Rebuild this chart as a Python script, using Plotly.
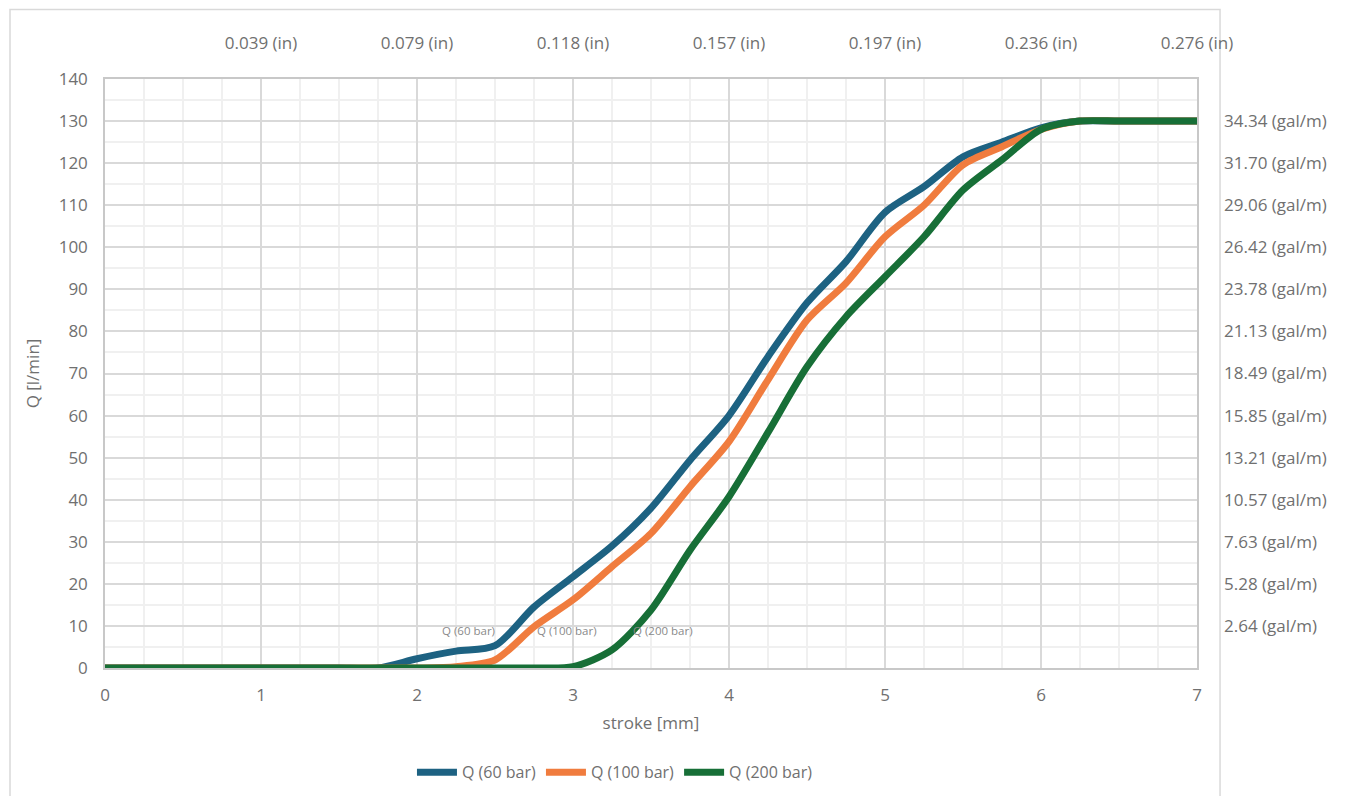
import plotly.graph_objects as go

# ---- data ----
stroke_mm = [0, 0.25, 0.5, 0.75, 1.0, 1.25, 1.5, 1.75, 2.0, 2.25, 2.5, 2.75, 3.0, 3.25, 3.5,
             3.75, 4.0, 4.25, 4.5, 4.75, 5.0, 5.25, 5.5, 5.75, 6.0, 6.25, 6.5, 6.75, 7.0]
q_60 = [0, 0, 0, 0, 0, 0, 0, 0, 2.2, 4, 5.3, 14.5, 21.7, 29, 38,
        49.4, 60, 74, 86.8, 96.6, 108.3, 114.4, 121.5, 125, 128.4, 130, 130, 130, 130]
q_100 = [0, 0, 0, 0, 0, 0, 0, 0, 0, 0.3, 1.9, 9.8, 16.2, 24.1, 32,
         43.1, 53.8, 68.5, 82.7, 91.5, 102.5, 110, 119.6, 123.9, 128, 130, 130, 130, 130]
q_200 = [0, 0, 0, 0, 0, 0, 0, 0, 0, 0, 0, 0, 0.3, 4.3, 13.8,
         28, 40.7, 56, 71.6, 83.5, 93, 102.5, 113.6, 120.8, 128, 130, 130, 130, 130]
series_names = ["Q (60 bar)", "Q (100 bar)", "Q (200 bar)"]
series_colors = ["#1d6282", "#f07c3e", "#176f37"]

x_ticks = [0, 1, 2, 3, 4, 5, 6, 7]
top_tick_vals = [1, 2, 3, 4, 5, 6, 7]
top_tick_text = ["0.039 (in)", "0.079 (in)", "0.118 (in)", "0.157 (in)",
                 "0.197 (in)", "0.236 (in)", "0.276 (in)"]
y_ticks = [0, 10, 20, 30, 40, 50, 60, 70, 80, 90, 100, 110, 120, 130, 140]
right_tick_vals = [10, 20, 30, 40, 50, 60, 70, 80, 90, 100, 110, 120, 130]
right_tick_text = ["2.64 (gal/m)", "5.28 (gal/m)", "7.63 (gal/m)", "10.57 (gal/m)",
                   "13.21 (gal/m)", "15.85 (gal/m)", "18.49 (gal/m)", "21.13 (gal/m)",
                   "23.78 (gal/m)", "26.42 (gal/m)", "29.06 (gal/m)", "31.70 (gal/m)",
                   "34.34 (gal/m)"]
label_x = [2.33, 2.96, 3.58]
label_y = [8.8, 8.8, 8.8]

FONT = "Open Sans"
TXT = "#707070"
MAJ = "#d9d9d9"
MIN = "#f0f0f0"

fig = go.Figure()
for name, ys, col in zip(series_names, [q_60, q_100, q_200], series_colors):
    fig.add_trace(go.Scatter(x=stroke_mm, y=ys, name=name, mode="lines",
                             line=dict(color=col, width=7, shape="spline", smoothing=0.8)))

# invisible trace to hold the secondary axes
fig.add_trace(go.Scatter(x=[0, 7], y=[0, 140], xaxis="x2", yaxis="y2", mode="lines",
                         line=dict(width=0, color="rgba(0,0,0,0)"), showlegend=False,
                         hoverinfo="skip"))

for lx, ly, name in zip(label_x, label_y, series_names):
    fig.add_annotation(x=lx, y=ly, text=name, showarrow=False,
                       font=dict(family=FONT, size=11.5, color="#8a8a8a"))

fig.add_shape(type="rect", xref="paper", yref="paper", x0=-0.0870, x1=1.0211,
              y0=-0.26, y1=1.1180, line=dict(color="#d9d9d9", width=1.5), layer="below")

fig.update_layout(
    width=1353, height=796,
    margin=dict(l=97, r=164, t=71, b=136),
    paper_bgcolor="white", plot_bgcolor="white",
    font=dict(family=FONT, size=17, color=TXT),
    showlegend=True,
    legend=dict(orientation="h", x=0.467, xanchor="center", y=-0.177, yanchor="middle",
                font=dict(family=FONT, size=16, color=TXT), itemwidth=40,
                tracegroupgap=0),
    xaxis=dict(range=[0, 7], tickvals=x_ticks, showgrid=True, gridcolor=MAJ, gridwidth=1.5,
               minor=dict(dtick=0.25, showgrid=True, gridcolor=MIN, gridwidth=1.5),
               showline=True, linecolor="#c8c8c8", linewidth=1.5, mirror=True,
               zeroline=False, ticks="", ticklabelstandoff=11,
               title=dict(text="stroke [mm]", standoff=12, font=dict(size=17, color=TXT))),
    yaxis=dict(range=[0, 140], tickvals=y_ticks, showgrid=True, gridcolor=MAJ, gridwidth=1.5,
               minor=dict(dtick=5, showgrid=True, gridcolor=MIN, gridwidth=1.5),
               showline=True, linecolor="#c8c8c8", linewidth=1.5, mirror=True,
               zeroline=False, ticks="", ticklabelstandoff=12,
               title=dict(text="Q [l/min]", standoff=15, font=dict(size=17, color=TXT))),
    xaxis2=dict(overlaying="x", side="top", range=[0, 7], tickvals=top_tick_vals,
                ticktext=top_tick_text, showgrid=False, zeroline=False, showline=False,
                ticks="", ticklabelstandoff=26),
    yaxis2=dict(overlaying="y", side="right", range=[0, 140], tickvals=right_tick_vals,
                ticktext=right_tick_text, showgrid=False, zeroline=False, showline=False,
                ticks="", ticklabelstandoff=26),
)

fig.write_html("out.html")
